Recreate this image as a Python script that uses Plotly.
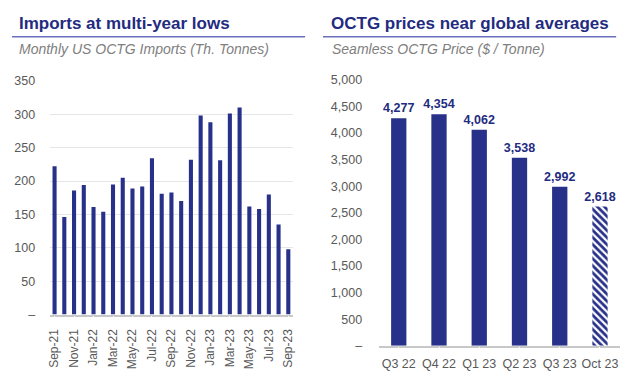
import plotly.graph_objects as go

# ---- data ----
months = ["Sep-21", "Oct-21", "Nov-21", "Dec-21", "Jan-22", "Feb-22", "Mar-22", "Apr-22",
          "May-22", "Jun-22", "Jul-22", "Aug-22", "Sep-22", "Oct-22", "Nov-22", "Dec-22",
          "Jan-23", "Feb-23", "Mar-23", "Apr-23", "May-23", "Jun-23", "Jul-23", "Aug-23", "Sep-23"]
imports = [222, 146, 186, 194, 161, 154, 195, 205, 189, 192, 234, 181, 183, 170, 232, 298,
           288, 231, 301, 310, 162, 158, 180, 135, 98]

quarters = ["Q3 22", "Q4 22", "Q1 23", "Q2 23", "Q3 23"]
prices = [4277, 4354, 4062, 3538, 2992]
latest_month = ["Oct 23"]
latest_price = [2618]

left_yticks = [0, 50, 100, 150, 200, 250, 300, 350]
left_ytext = ["–", "50", "100", "150", "200", "250", "300", "350"]
right_yticks = [0, 500, 1000, 1500, 2000, 2500, 3000, 3500, 4000, 4500, 5000]
right_ytext = ["–", "500", "1,000", "1,500", "2,000", "2,500", "3,000", "3,500", "4,000", "4,500", "5,000"]

NAVY = "#283189"
TITLE = "#232b80"
GRAY = "#595959"
FONT = "Liberation Sans, Arial, sans-serif"

W, H = 640, 382

fig = go.Figure()

fig.add_trace(go.Bar(
    x=months, y=imports, xaxis="x", yaxis="y",
    marker=dict(color=NAVY, line=dict(width=0)), width=0.42, showlegend=False,
))

label_font = dict(color=TITLE, size=12.5, family=FONT, weight="bold")

fig.add_trace(go.Bar(
    x=quarters, y=prices, xaxis="x2", yaxis="y2",
    marker=dict(color=NAVY, line=dict(width=0)),
    width=0.38, showlegend=False,
    text=[f"{v:,}" for v in prices], textposition="outside", constraintext="none",
    textfont=label_font, cliponaxis=False,
))

fig.add_trace(go.Bar(
    x=latest_month, y=latest_price, xaxis="x2", yaxis="y2",
    marker=dict(color="white", line=dict(width=0),
                pattern=dict(shape="\\", fgcolor=NAVY, bgcolor="white", fgopacity=1,
                             size=5, solidity=0.55, fillmode="overlay")),
    width=0.38, showlegend=False,
    text=[f"{v:,}" for v in latest_price], textposition="outside", constraintext="none",
    textfont=label_font, cliponaxis=False,
))

def px_x(p):
    return p / W

def px_y(p):
    return 1 - p / H

fig.update_layout(
    width=W, height=H,
    margin=dict(l=0, r=0, t=0, b=0),
    paper_bgcolor="white", plot_bgcolor="white",
    font=dict(family=FONT, color=GRAY, size=12),
    barmode="overlay",
    xaxis=dict(
        domain=[px_x(48), px_x(293)], anchor="y",
        type="category", range=[-0.5, 24.5],
        tickmode="array", tickvals=months[::2], ticktext=months[::2],
        tickangle=-90, showgrid=False,
        showline=True, linecolor="#c8c8c8", linewidth=1.5,
        ticks="outside", ticklen=8, tickcolor="white",
        tickfont=dict(size=12, color=GRAY),
    ),
    yaxis=dict(
        domain=[px_y(319.3), px_y(76.7)], anchor="x",
        range=[0, 350], tickmode="array", tickvals=left_yticks, ticktext=left_ytext,
        showgrid=True, gridcolor="#e6e6e6", gridwidth=1,
        zeroline=False, showline=False,
        ticks="outside", ticklen=11, tickcolor="white",
        tickfont=dict(size=12.5, color=GRAY),
    ),
    xaxis2=dict(
        domain=[px_x(379), px_x(622)], anchor="y2",
        type="category", range=[-0.5, 5.5],
        categoryorder="array", categoryarray=quarters + latest_month,
        showgrid=False, showline=True, linecolor="#c8c8c8", linewidth=1.5,
        ticks="outside", ticklen=6, tickcolor="white",
        tickfont=dict(size=12.5, color=GRAY),
    ),
    yaxis2=dict(
        domain=[px_y(351.6), px_y(75.7)], anchor="x2",
        range=[0, 5000], tickmode="array", tickvals=right_yticks, ticktext=right_ytext,
        showgrid=False, zeroline=False, showline=False,
        ticks="outside", ticklen=13, tickcolor="white",
        tickfont=dict(size=12.5, color=GRAY),
    ),
    shapes=[
        dict(type="line", xref="paper", yref="paper", x0=px_x(10), x1=px_x(305),
             y0=px_y(31), y1=px_y(31), line=dict(color="#6b70bd", width=1.5)),
        dict(type="line", xref="paper", yref="paper", x0=px_x(323), x1=px_x(618),
             y0=px_y(31), y1=px_y(31), line=dict(color="#6b70bd", width=1.5)),
    ],
    annotations=[
        dict(text="<b>Imports at multi-year lows</b>", xref="paper", yref="paper",
             x=px_x(15), y=px_y(17), xanchor="left", yanchor="middle", showarrow=False,
             font=dict(size=17, color=TITLE, family=FONT)),
        dict(text="<i>Monthly US OCTG Imports (Th. Tonnes)</i>", xref="paper", yref="paper",
             x=px_x(15), y=px_y(44), xanchor="left", yanchor="middle", showarrow=False,
             font=dict(size=14, color="#808080", family=FONT)),
        dict(text="<b>OCTG prices near global averages</b>", xref="paper", yref="paper",
             x=px_x(329), y=px_y(17), xanchor="left", yanchor="middle", showarrow=False,
             font=dict(size=17, color=TITLE, family=FONT)),
        dict(text="<i>Seamless OCTG Price ($ / Tonne)</i>", xref="paper", yref="paper",
             x=px_x(330), y=px_y(44), xanchor="left", yanchor="middle", showarrow=False,
             font=dict(size=14, color="#808080", family=FONT)),
    ],
)

fig.write_html(
    "out.html",
    config={"displayModeBar": False},
    post_script="document.body.style.margin='0';document.body.style.overflow='hidden';",
)
